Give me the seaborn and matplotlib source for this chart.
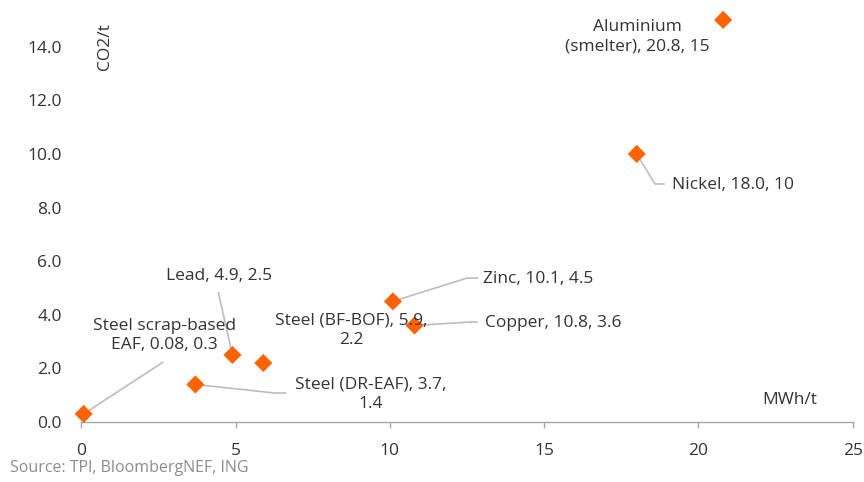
import matplotlib
matplotlib.use("Agg")
import matplotlib.pyplot as plt
import seaborn as sns
import pandas as pd

# Energy and emission intensity of metal production
metals = ["Steel scrap-based\nEAF", "Lead", "Steel (BF-BOF)", "Steel (DR-EAF)",
          "Zinc", "Copper", "Nickel", "Aluminium\n(smelter)"]
mwh_per_t = [0.08, 4.9, 5.9, 3.7, 10.1, 10.8, 18.0, 20.8]
co2_per_t = [0.3, 2.5, 2.2, 1.4, 4.5, 3.6, 10, 15]
value_text = ["0.08, 0.3", "4.9, 2.5", "5.9,\n2.2", "3.7,\n1.4",
              "10.1, 4.5", "10.8, 3.6", "18.0, 10", "20.8, 15"]

x_ticks = [0, 5, 10, 15, 20, 25]
y_ticks = [0, 2, 4, 6, 8, 10, 12, 14]

df = pd.DataFrame({"metal": metals, "mwh": mwh_per_t, "co2": co2_per_t,
                   "vals": value_text})

ORANGE = "#FF6200"
TEXT = "#333333"
LEADER = "#BDBDBD"

sns.set_theme(style="white")
plt.rcParams["font.family"] = ["Open Sans", "DejaVu Sans"]

fig = plt.figure(figsize=(8.64, 4.82), dpi=100)
ax = fig.add_axes([0.094, 0.1245, 0.893, 0.862])

sns.scatterplot(data=df, x="mwh", y="co2", marker="D", s=85, color=ORANGE,
                edgecolor="none", linewidth=0, ax=ax, zorder=3, legend=False,
                clip_on=False)

ax.set_xlim(0, 25)
ax.set_ylim(0, 15.5)
ax.set_xticks(x_ticks)
ax.set_xticklabels([str(t) for t in x_ticks])
ax.set_yticks(y_ticks)
ax.set_yticklabels([f"{t:.1f}" for t in y_ticks])

for side in ["top", "right", "left"]:
    ax.spines[side].set_visible(False)
ax.spines["bottom"].set_color("#A6A6A6")
ax.spines["bottom"].set_linewidth(1.0)
ax.tick_params(axis="x", direction="out", length=4, width=1, color="#A6A6A6",
               labelsize=12.5, labelcolor=TEXT, pad=11, bottom=True)
ax.tick_params(axis="y", length=0, labelsize=12.5, labelcolor=TEXT, pad=14)
ax.set_xlabel("")
ax.set_ylabel("")
ax.grid(False)

# Label layout: text anchor, alignment and leader path (elbow, end) in data units
layout = {
    "Steel scrap-based\nEAF": dict(t=(2.69, 3.23), ha="center", path=[(2.66, 2.24)]),
    "Lead": dict(t=(4.48, 5.45), ha="center", path=[(4.44, 4.85)]),
    "Steel (BF-BOF)": dict(t=(8.74, 3.43), ha="center", path=[]),
    "Steel (DR-EAF)": dict(t=(9.39, 1.04), ha="center", path=[(6.28, 1.08), (6.64, 1.08)]),
    "Zinc": dict(t=(13.02, 5.34), ha="left", path=[(12.50, 5.37), (12.86, 5.37)]),
    "Copper": dict(t=(13.08, 3.69), ha="left", path=[(12.60, 3.73), (12.86, 3.73)]),
    "Nickel": dict(t=(19.14, 8.84), ha="left", path=[(18.59, 8.88), (18.91, 8.88)]),
    "Aluminium\n(smelter)": dict(t=(18.03, 14.38), ha="center", path=[]),
}

for _, row in df.iterrows():
    lay = layout[row["metal"]]
    if lay["path"]:
        xs = [row["mwh"]] + [p[0] for p in lay["path"]]
        ys = [row["co2"]] + [p[1] for p in lay["path"]]
        ax.plot(xs, ys, color=LEADER, lw=1.2, zorder=2, solid_capstyle="butt")
    ax.text(lay["t"][0], lay["t"][1], f"{row['metal']}, {row['vals']}",
            ha=lay["ha"], va="center", fontsize=12.5, color=TEXT,
            linespacing=1.3, zorder=4)

# Axis unit labels placed inside the plot area
ax.text(0.77, 14.0, "CO2/t", rotation=90, ha="center", va="center",
        fontsize=12.5, color=TEXT)
ax.text(22.96, 0.82, "MWh/t", ha="center", va="center", fontsize=12.5, color=TEXT)

fig.text(0.012, 0.012, "Source: TPI, BloombergNEF, ING", ha="left", va="bottom",
         fontsize=11.5, color="#8C8C8C")

fig.savefig("out.png", dpi=100)
